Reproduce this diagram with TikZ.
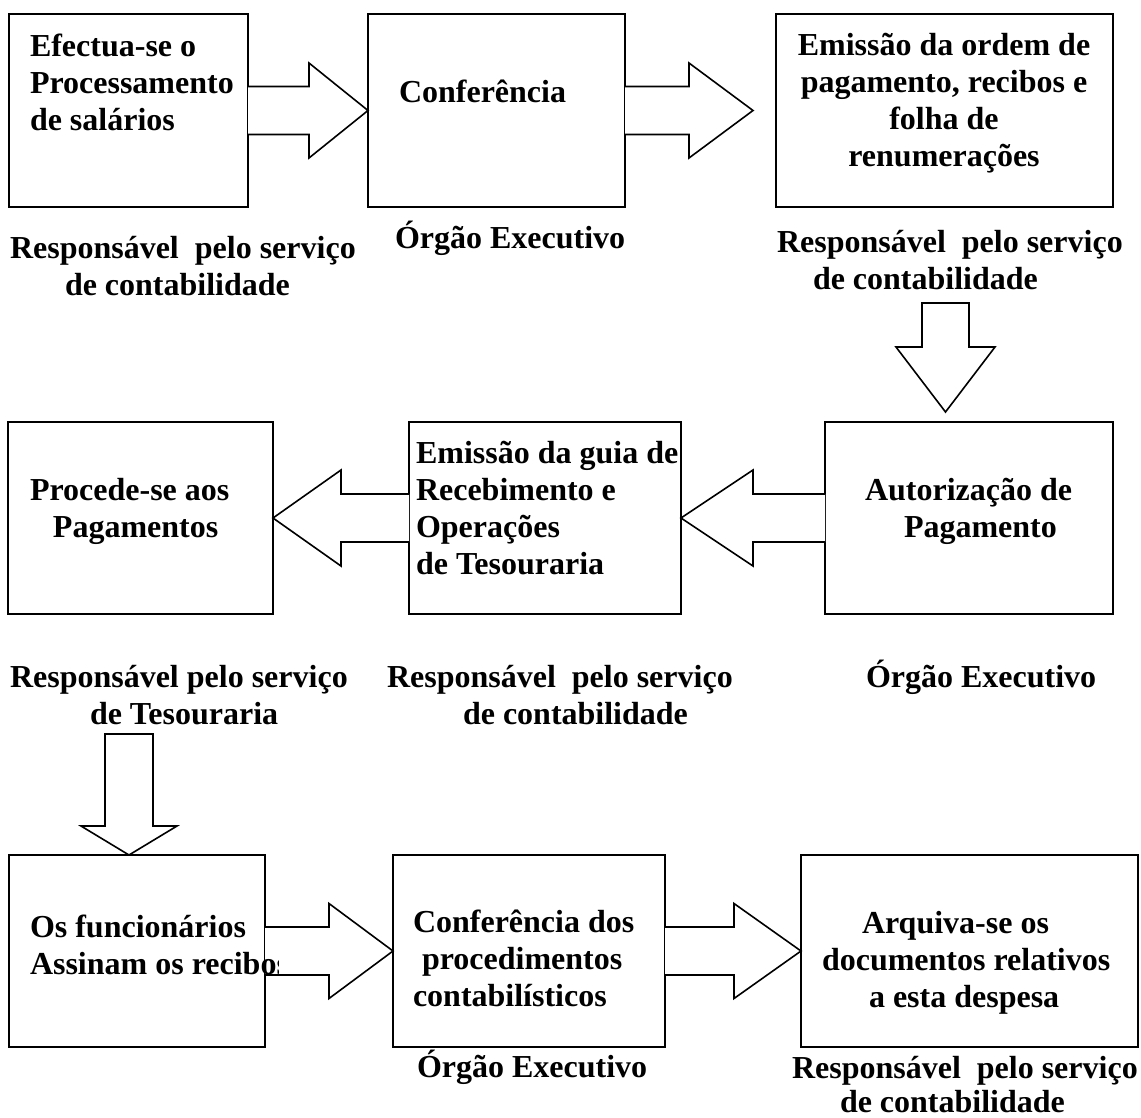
\documentclass[tikz,border=0pt]{standalone}
\usepackage{fontspec}
\setmainfont{Liberation Serif}
\usetikzlibrary{calc}
\newcommand\tst{\rule{0pt}{32pt}}
% #1 start (box side), #2 tip, #3 head length (signed), #4 shaft half width, #5 head half width
\newcommand\blockarrow[5]{%
  \draw[barrow] ($(#1)+(0,{-(#4)})$) -- ($(#2)+({-(#3)},{-(#4)})$) -- ($(#2)+({-(#3)},{-(#5)})$)
    -- (#2) -- ($(#2)+({-(#3)},{#5})$) -- ($(#2)+({-(#3)},{#4})$) -- ($(#1)+(0,{#4})$);}
\begin{document}
\begin{tikzpicture}[x=1pt,y=-1pt,
  box/.style={draw,line width=2pt,inner sep=0pt,outer sep=0pt,rectangle},
  txt/.style={inner sep=0pt,outer sep=0pt,anchor=north west,align=left,font=\fontsize{32}{37}\selectfont\bfseries},
  ctxt/.style={txt,anchor=north,align=center},
  barrow/.style={draw,fill=white,line width=1.6pt,line join=miter}]
\useasboundingbox (0,0) rectangle (1141,1117);
\fill[white] (0,0) rectangle (1141,1117);

% boxes
\node[box,minimum width=239pt,minimum height=193pt] (A) at (128.5,110.5) {};
\node[box,minimum width=257pt,minimum height=193pt] (B) at (496.5,110.5) {};
\node[box,minimum width=337pt,minimum height=193pt] (C) at (944.5,110.5) {};
\node[box,minimum width=265pt,minimum height=192pt] (E) at (140.5,518) {};
\node[box,minimum width=272pt,minimum height=192pt] (F) at (545,518) {};
\node[box,minimum width=288pt,minimum height=192pt] (G) at (969,518) {};
\node[box,minimum width=256pt,minimum height=192pt] (H) at (137,951) {};
\node[box,minimum width=272pt,minimum height=192pt] (I) at (529,951) {};
\node[box,minimum width=337pt,minimum height=192pt] (J) at (969.5,951) {};

% texts in boxes
\node[txt] (tA) at (30,24) {\tst Efectua-se o\\Processamento\\de salários};
\node[txt] (tB) at (399,70) {\tst Conferência};
\node[ctxt] (tC) at (944,23) {\tst Emissão da ordem de\\pagamento, recibos e\\folha de\\renumerações};
\node[txt] (tE) at (30,468) {\tst Procede-se aos\\\hspace*{23pt}Pagamentos};
\node[txt] (tF) at (416,431) {\tst Emissão da guia de\\Recebimento e\\Operações\\de Tesouraria};
\node[txt] (tG) at (865,468) {\tst Autorização de\\\hspace*{39pt}Pagamento};
\node[txt] (tI) at (413,900) {\tst Conferência dos\\\hspace*{9pt}procedimentos\\contabilísticos};
\node[txt] (tJ) at (822,901) {\tst\hspace*{40pt}Arquiva-se os\\documentos relativos\\\hspace*{47pt}a esta despesa};

% labels
\node[txt] (lA) at (10,226) {\tst Responsável~ pelo serviço\\\hspace*{55pt}de contabilidade};
\node[txt] (lB) at (395,216) {\tst Órgão Executivo};
\node[txt] (lC) at (777,220) {\tst Responsável~ pelo serviço\\\hspace*{36pt}de contabilidade};
\node[txt] (lE) at (10,655) {\tst Responsável pelo serviço\\\hspace*{80pt}de Tesouraria};
\node[txt] (lF) at (387,655) {\tst Responsável~ pelo serviço\\\hspace*{76pt}de contabilidade};
\node[txt] (lG) at (866,655) {\tst Órgão Executivo};
\node[txt] (lI) at (417,1045) {\tst Órgão Executivo};
\node[txt] (lJ) at (792,1046) {\tst Responsável~ pelo serviço\\[-3pt]\hspace*{48pt}de contabilidade};

% horizontal block arrows
\coordinate (BCtip) at ($(C.west)+(-23,0)$);
\blockarrow{A.east}{B.west}{59}{24}{47.5}
\blockarrow{B.east}{BCtip}{64}{24}{47.5}
\blockarrow{G.west}{F.east}{-72}{24}{48}
\blockarrow{F.west}{E.east}{-68}{24}{48}
\blockarrow{H.east}{I.west}{64}{24}{47.5}
\blockarrow{I.east}{J.west}{67}{24}{47.5}

% text of H, cut off by the arrow as in the original
\begin{scope}
\clip (0,0) rectangle (278,1117);
\node[txt] (tH) at (30,905) {\tst Os funcionários\\Assinam os recibos};
\end{scope}

% vertical block arrows
\coordinate (d1s) at (945.5,303);
\coordinate (d1e) at (945.5,412);
\draw[barrow] ($(d1s)+(-23.5,0)$) -- ($(d1e)+(-23.5,-65)$) -- ($(d1e)+(-49.5,-65)$) -- (d1e)
  -- ($(d1e)+(49.5,-65)$) -- ($(d1e)+(23.5,-65)$) -- ($(d1s)+(23.5,0)$) -- cycle;
\coordinate (d2s) at (129,734);
\coordinate (d2e) at (H.north -| d2s);
\draw[barrow] ($(d2s)+(-24,0)$) -- ($(d2e)+(-24,-29)$) -- ($(d2e)+(-48,-29)$) -- (d2e)
  -- ($(d2e)+(48,-29)$) -- ($(d2e)+(24,-29)$) -- ($(d2s)+(24,0)$) -- cycle;
\end{tikzpicture}
\end{document}
